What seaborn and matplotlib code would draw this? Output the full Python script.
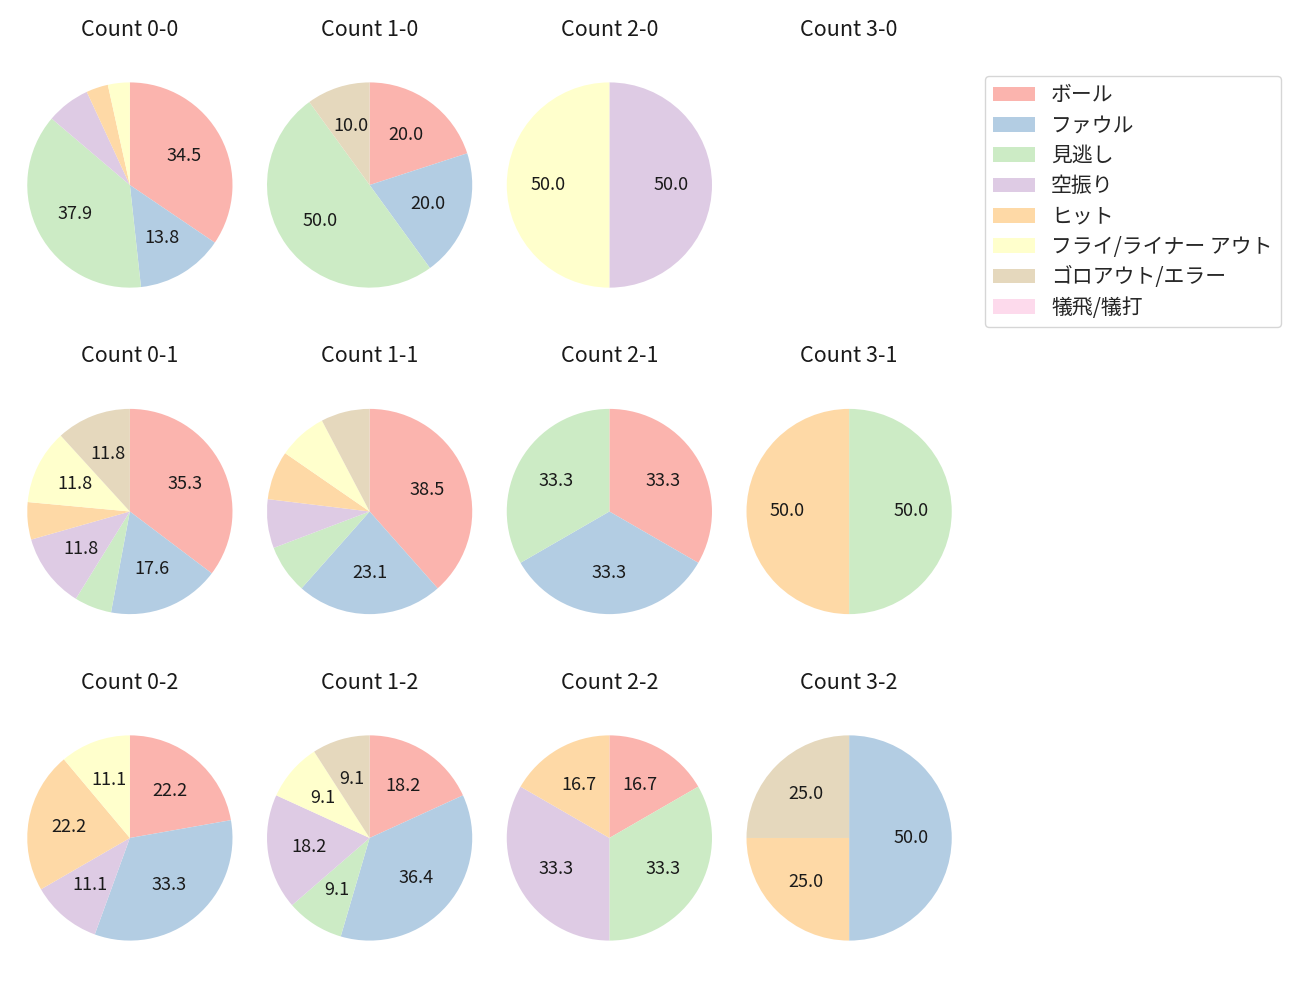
import matplotlib
matplotlib.use("Agg")
import matplotlib.pyplot as plt
from matplotlib.patches import Patch
import seaborn as sns

categories = ["ボール", "ファウル", "見逃し", "空振り", "ヒット",
              "フライ/ライナー アウト", "ゴロアウト/エラー", "犠飛/犠打"]

count_0_0 = [10, 4, 11, 2, 1, 1, 0, 0]
count_1_0 = [2, 2, 5, 0, 0, 0, 1, 0]
count_2_0 = [0, 0, 0, 1, 0, 1, 0, 0]
count_3_0 = [0, 0, 0, 0, 0, 0, 0, 0]
count_0_1 = [6, 3, 1, 2, 1, 2, 2, 0]
count_1_1 = [5, 3, 1, 1, 1, 1, 1, 0]
count_2_1 = [1, 1, 1, 0, 0, 0, 0, 0]
count_3_1 = [0, 0, 1, 0, 1, 0, 0, 0]
count_0_2 = [2, 3, 0, 1, 2, 1, 0, 0]
count_1_2 = [2, 4, 1, 2, 0, 1, 1, 0]
count_2_2 = [1, 0, 2, 2, 1, 0, 0, 0]
count_3_2 = [0, 2, 0, 0, 1, 0, 1, 0]

titles = [["Count 0-0", "Count 1-0", "Count 2-0", "Count 3-0"],
          ["Count 0-1", "Count 1-1", "Count 2-1", "Count 3-1"],
          ["Count 0-2", "Count 1-2", "Count 2-2", "Count 3-2"]]
grid = [[count_0_0, count_1_0, count_2_0, count_3_0],
        [count_0_1, count_1_1, count_2_1, count_3_1],
        [count_0_2, count_1_2, count_2_2, count_3_2]]

sns.set_style("white")
plt.rcParams["font.family"] = ["Noto Sans CJK JP", "DejaVu Sans"]

colors = sns.color_palette("Pastel1", len(categories))

fig, axes = plt.subplots(3, 4, figsize=(13, 10), dpi=100)
fig.subplots_adjust(left=10 / 1300, right=969 / 1300, top=0.935, bottom=0.042,
                    wspace=0.0, hspace=0.36)


def fmt(p):
    return f"{p:.1f}" if p > 8 else ""


for r in range(3):
    for c in range(4):
        ax = axes[r][c]
        vals = grid[r][c]
        if sum(vals) > 0:
            idx = [i for i, v in enumerate(vals) if v > 0]
            ax.pie([vals[i] for i in idx], colors=[colors[i] for i in idx],
                   startangle=90, counterclock=False, radius=1.07,
                   autopct=fmt, pctdistance=0.6,
                   wedgeprops={"linewidth": 0, "edgecolor": "none"},
                   textprops={"fontsize": 13, "color": "#1a1a1a"})
        else:
            ax.set_aspect("equal")
            ax.set_xlim(-1.25, 1.25)
            ax.set_ylim(-1.25, 1.25)
            ax.axis("off")
        ax.set_title(titles[r][c], fontsize=15.5, pad=21, color="#1a1a1a")

handles = [Patch(facecolor=colors[i], edgecolor="none", label=categories[i])
           for i in range(len(categories))]
fig.legend(handles=handles, loc="upper right", bbox_to_anchor=(1281 / 1300, 1 - 76 / 1000),
           borderaxespad=0.0, fontsize=15, labelspacing=0.40,
           frameon=True)

fig.savefig("out.png", dpi=100)
